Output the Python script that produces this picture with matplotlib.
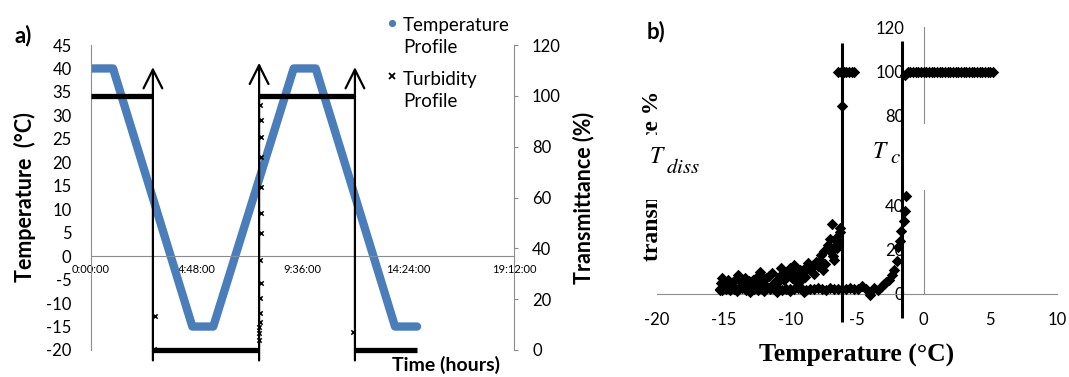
import matplotlib
matplotlib.use("Agg")
import matplotlib.pyplot as plt
from matplotlib.patches import Rectangle

plt.rcParams['font.family'] = ['Lato', 'DejaVu Sans']
plt.rcParams['axes.unicode_minus'] = False
plt.rcParams['mathtext.fontset'] = 'stix'

# ---- panel a data ----
temp_time = [0.0, 1.0, 4.6, 5.55, 9.2, 10.2, 13.8, 14.8]
temp_vals = [40, 40, -15, -15, 40, 40, -15, -15]

turb_level = [100, 0, 100, 0]
turb_start = [0.0, 2.81, 7.63, 11.98]
turb_end = [2.81, 7.63, 11.98, 14.8]
turb_tr_time = [2.9, 2.85, 7.68, 7.7, 7.7, 7.72, 7.7, 7.72, 7.7, 7.68, 7.7, 7.68,
                7.66, 7.66, 7.64, 7.64, 7.63, 11.9]
turb_tr_vals = [13.3, 0.5, 96.4, 90.5, 83.8, 75.9, 64.1, 53.9, 46.0, 35.4, 26.4,
                20.5, 14.6, 11.0, 9.0, 6.6, 3.9, 7.0]

arrow_time = [2.81, 7.63, 11.98]
arrow_top = [111.3, 113.0, 111.3]
arrow_bottom = -4.1

time_ticks = [0, 4.8, 9.6, 14.4, 19.2]
time_labels = ['0:00:00', '4:48:00', '9:36:00', '14:24:00', '19:12:00']
legend_labels = ['Temperature\nProfile', 'Turbidity\nProfile']

# ---- panel b data ----
cool_hi_temp = [5.2, 5.0, 4.8, 4.6, 4.4, 4.2, 4.0, 3.8, 3.6, 3.4, 3.2, 3.0, 2.8, 2.6,
                2.4, 2.2, 2.0, 1.8, 1.6, 1.4, 1.2, 1.0, 0.8, 0.6, 0.4, 0.2, 0.0, -0.2,
                -0.4, -0.6, -0.8, -1.0, -1.2, -1.4]
cool_hi_trans = [100] * 33 + [98.3]
cool_drop_temp = [-1.3, -1.4, -1.5, -1.7, -1.8, -1.9, -2.0, -2.2, -2.4, -2.6, -2.8,
                  -3.0, -3.2]
cool_drop_trans = [44, 37.5, 33, 28.5, 24, 21, 15, 11, 8.5, 6.5, 5.5, 4.5, 3.0]
cool_low_temp = [-3.4, -3.7, -4.0, -4.3, -4.6, -4.9, -5.2, -5.5, -5.8, -6.1, -6.4,
                 -6.7, -7.0, -7.3, -7.6, -7.9, -8.2, -8.5, -8.8, -9.1, -9.4, -9.7,
                 -10.0, -10.3, -10.6, -10.9, -11.2, -11.5, -11.8, -12.1, -12.4,
                 -12.7, -13.0, -13.3, -13.6, -13.9, -14.2, -14.5, -14.8, -15.1, -15.3]
cool_low_trans = [2.0, 2.5, -0.5, 2.2, 3.5, 2.4, 2.2, 2.6, 2.3, 2.1, 2.4, 2.2, 2.5,
                  2.0, 2.3, 2.6, 2.2, 2.4, 1.9, 2.3, 2.7, 2.1, 2.4, 2.2, 2.0, 2.5,
                  2.3, 2.1, 2.6, 2.2, 1.8, 2.4, 2.2, 2.0, 2.5, 2.3, 2.1, 1.9, 2.4,
                  1.6, 2.2]
heat_temp = [-15.3, -15.2, -15.1, -14.9, -14.6, -14.3, -14.0, -13.9, -13.6, -13.2,
             -13.0, -12.8, -12.5, -12.3, -12.1, -12.0, -11.8, -11.4, -11.1, -11.0,
             -10.9, -10.7, -10.4, -10.05, -10.0, -9.9, -9.7, -9.5, -9.4, -9.2,
             -9.05, -9.0, -8.8, -8.55, -8.3, -8.05, -7.8, -7.55, -7.4, -7.2, -6.95,
             -6.8, -6.7, -6.7, -6.5, -6.4, -6.3, -6.3, -6.1,
             -6.4, -6.2, -6.0, -5.8, -5.6, -5.4, -5.2]
heat_trans = [1.8, 4.8, 7.0, 5.5, 3.5, 5.5, 1.2, 8.5, 5.5, 4.0, 1.0, 6.3, 7.5, 10.0,
              5.5, 1.3, 7.0, 9.3, 6.0, 1.1, 5.5, 11.5, 9.0, 11.6, 1.2, 7.0, 13.0,
              8.5, 4.8, 6.5, 9.3, 1.0, 12.0, 10.8, 13.0, 14.5, 15.2, 10.8, 13.5,
              22.0, 19.0, 17.0, 15.2, 21.2, 20.5, 23.5, 28.0, 29.5, 84.5,
              100, 100, 100, 100, 100, 100, 100]
# second run of the warming scan (denser cloud)
heat2_temp = [-15.0, -14.7, -14.4, -14.1, -13.7, -13.4, -13.1, -12.9, -12.6, -12.2,
              -11.9, -11.6, -11.3, -10.8, -10.5, -10.2, -9.8, -9.6, -9.3, -8.9,
              -8.7, -8.4, -8.2, -7.9, -7.7, -7.5, -7.0, -6.9, -6.6]
heat2_trans = [3.0, 6.2, 4.0, 6.8, 3.2, 7.0, 5.8, 3.5, 4.5, 8.2, 4.2, 8.0, 4.6, 8.3,
               6.5, 10.5, 10.0, 6.0, 11.0, 7.8, 14.0, 12.2, 9.0, 12.5, 17.5, 19.5,
               24.5, 31.5, 25.0]

line_temp = [-6.1, -1.6]
line_top = [112.6, 113.9]
line_bottom = [-12.6, -10.8]

trans_ticks = [0, 20, 40, 60, 80, 100, 120]
trans_tick_labels = ['0', '20', '40', '', '80', '100', '120']  # 60 sits under the Tc box

W, H = 1069, 377
GRAY = '#8c8c8c'
BLUE = '#4a7ebb'


def px_box(l, t, r, b):
    return [l / W, 1 - b / H, (r - l) / W, (b - t) / H]


fig = plt.figure(figsize=(W / 100, H / 100), dpi=100)

# ================= panel a =================
ax1 = fig.add_axes(px_box(91, 45, 514, 350))
ax1.set_xlim(0, 19.2)
ax1.set_ylim(-20, 45)
ax1.plot(temp_time, temp_vals, color=BLUE, lw=6, solid_capstyle='round',
         solid_joinstyle='round', zorder=2)
for s in ['top', 'right']:
    ax1.spines[s].set_visible(False)
ax1.spines['left'].set_color(GRAY)
ax1.spines['bottom'].set_position(('data', 0))
ax1.spines['bottom'].set_color(GRAY)
ax1.set_yticks(range(-20, 50, 5))
ax1.tick_params(axis='y', length=0, pad=14, labelsize=12)
ax1.set_xticks(time_ticks)
ax1.set_xticklabels(time_labels)
ax1.tick_params(axis='x', length=0, pad=6, labelsize=8)
ax1.patch.set_visible(False)

ax2 = ax1.twinx()
ax2.set_ylim(0, 120)
for s in ['top', 'left', 'bottom']:
    ax2.spines[s].set_visible(False)
ax2.spines['right'].set_color(GRAY)
ax2.set_yticks(trans_ticks)
ax2.tick_params(axis='y', length=3, color=GRAY, pad=10, labelsize=12)
ax2.hlines(turb_level, turb_start, turb_end, color='black', lw=3.8, zorder=3,
           clip_on=False)
ax2.scatter(turb_tr_time, turb_tr_vals, marker='x', s=10, color='black',
            lw=1.1, zorder=3, clip_on=False)
for t, top in zip(arrow_time, arrow_top):
    ax2.annotate('', xy=(t, top), xytext=(t, arrow_bottom),
                 arrowprops=dict(arrowstyle='->,head_length=0.9,head_width=0.45',
                                 lw=1.6, color='black', shrinkA=0, shrinkB=0,
                                 mutation_scale=15),
                 annotation_clip=False, zorder=4)

fig.text(25 / W, 1 - 197 / H, 'Temperature  (°C)', rotation=90, ha='center',
         va='center', fontsize=15.5, fontweight='bold')
fig.text(584 / W, 1 - 198 / H, 'Transmittance (%)', rotation=90, ha='center',
         va='center', fontsize=15.5, fontweight='bold')
fig.text(446 / W, 1 - 365 / H, 'Time (hours)', ha='center', va='center',
         fontsize=14, fontweight='bold')
fig.text(23 / W, 1 - 36 / H, 'a)', ha='center', va='center', fontsize=16,
         fontweight='bold')

# legend drawn by hand (multi-line labels: baseline = last line)
leg_markers = [dict(marker='o', color=BLUE, ms=5.2, mew=0),
               dict(marker='x', color='black', ms=4.5, mew=1.3)]
leg_y = [23, 76]
leg_base = [53, 107]
for lab, mk, y, b in zip(legend_labels, leg_markers, leg_y, leg_base):
    fig.add_artist(plt.Line2D([392 / W], [1 - y / H], transform=fig.transFigure,
                              ls='none', **mk))
    fig.text(403 / W, 1 - b / H, lab, ha='left', va='baseline', fontsize=13.5,
             linespacing=1.33)

# ================= panel b =================
ax3 = fig.add_axes(px_box(657, 27, 1057, 294))
ax3.set_xlim(-20, 10)
ax3.set_ylim(0, 120)
for s in ['top', 'right']:
    ax3.spines[s].set_visible(False)
ax3.spines['left'].set_position(('data', 0))
ax3.spines['left'].set_color(GRAY)
ax3.spines['bottom'].set_color(GRAY)
ax3.set_xticks(range(-20, 15, 5))
ax3.set_yticks(trans_ticks)
ax3.set_yticklabels(trans_tick_labels)
ax3.tick_params(axis='x', length=0, pad=13, labelsize=12)
ax3.tick_params(axis='y', length=0, pad=14, labelsize=12)
ax3.patch.set_visible(False)

dkw = dict(marker='D', s=34, color='black', lw=0, zorder=5, clip_on=False)
ax3.scatter(cool_hi_temp, cool_hi_trans, **dkw)
ax3.scatter(cool_drop_temp, cool_drop_trans, **dkw)
ax3.scatter(cool_low_temp, cool_low_trans, **dkw)
ax3.scatter(heat_temp, heat_trans, **dkw)
ax3.scatter(heat2_temp, heat2_trans, **dkw)
ax3.vlines(line_temp, line_bottom, line_top, color='black', lw=2.2, zorder=4,
           clip_on=False)

# white boxes of the Tc / Tdiss labels hide parts of the axis
ax3.add_patch(Rectangle((866 / W, 1 - 190 / H), 68 / W, 66 / H,
                        transform=fig.transFigure, fc='white', ec='none',
                        zorder=3, clip_on=False))
fig.text(653 / W, 1 - 176 / H, 'transmittance %', rotation=90, ha='center',
         va='center', fontsize=17, fontweight='bold', family='Liberation Serif')
fig.add_artist(Rectangle((640 / W, 1 - 200 / H), 75 / W, 65 / H,
                         transform=fig.transFigure, fc='white', ec='none',
                         zorder=3.5))
fig.text(649 / W, 1 - 163 / H, r'$T$', ha='left', va='baseline', fontsize=17,
         zorder=4)
fig.text(666 / W, 1 - 173 / H, r'$diss$', ha='left', va='baseline', fontsize=15,
         zorder=4)
fig.text(872 / W, 1 - 158 / H, r'$T$', ha='left', va='baseline', fontsize=17,
         zorder=4)
fig.text(890 / W, 1 - 163 / H, r'$c$', ha='left', va='baseline', fontsize=15,
         zorder=4)

fig.text(857 / W, 1 - 355 / H, 'Temperature (°C)', ha='center', va='center',
         fontsize=18.5, fontweight='bold', family='Liberation Serif')
fig.text(656 / W, 1 - 32 / H, 'b)', ha='center', va='center', fontsize=16,
         fontweight='bold')

fig.savefig('out.png', dpi=100)
